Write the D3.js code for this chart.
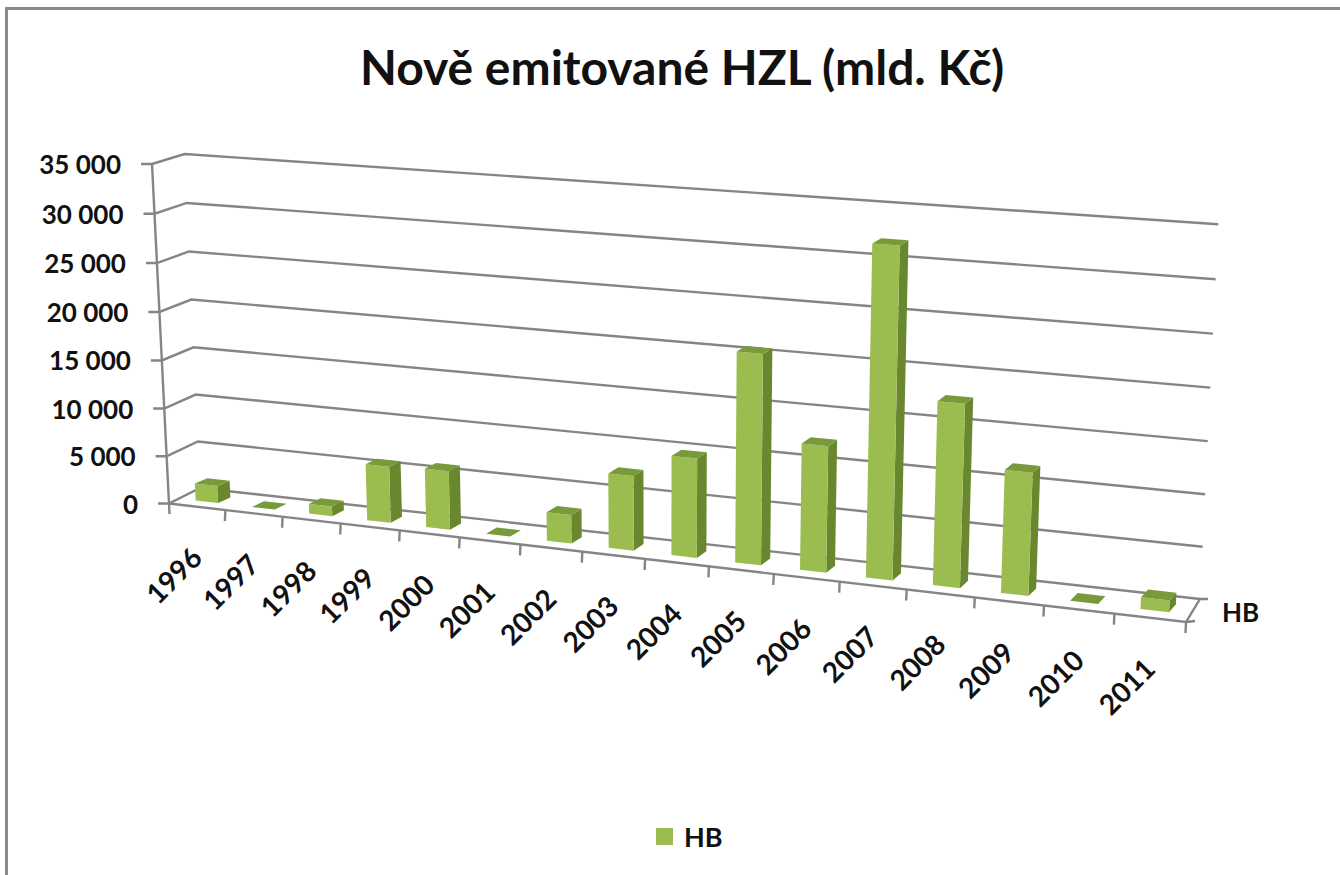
<!DOCTYPE html>
<html>
<head>
<meta charset="utf-8">
<script src="https://cdn.jsdelivr.net/npm/d3@7"></script>
<style>
html, body { margin: 0; padding: 0; background: #fff; overflow: hidden; }
text { font-family: Lato, "Open Sans", sans-serif; fill: #111; }
</style>
</head>
<body>
<div class="container"></div>
<script>
const categories = ["1996","1997","1998","1999","2000","2001","2002","2003","2004","2005","2006","2007","2008","2009","2010","2011"]
const values = [1800, 0, 1000, 5800, 6000, 0, 2900, 7500, 9900, 20700, 12400, 32000, 17700, 11800, 0, 1100]
const yTicks = [0, 5000, 10000, 15000, 20000, 25000, 30000, 35000]
const yLabels = ["0", "5 000", "10 000", "15 000", "20 000", "25 000", "30 000", "35 000"]
const seriesName = "HB"
const chartTitle = "Nově emitované HZL (mld. Kč)"

const wd = 1340, ht = 875
const gridCol = "#858585"

const svg = d3.select(".container").append("svg").attr("width", wd).attr("height", ht)

// frame of the chart area
svg.append("path")
.attr("d", "M6.5,875V8.5H1340")
.attr("fill", "none").attr("stroke", "#8a8a8a").attr("stroke-width", 3)

// corners of the 3d box in screen pixels: f = front, b = back, lo = floor, hi = top
const box = {
  fLoL: [169, 503.5], fLoR: [1186, 622], fHiL: [152, 164], fHiR: [1204, 240],
  bLoL: [200, 488], bLoR: [1200, 599], bHiL: [184.5, 154], bHiR: [1218.3, 224.3]
}
const mix = (a, b, t) => [a[0] + (b[0] - a[0]) * t, a[1] + (b[1] - a[1]) * t]
// foreshortening, things get bigger to the right and to the top
const warp = (t, k) => t / (t + k * (1 - t))

const xScale = d3.scaleBand().domain(categories).range([0, 1])
const yScale = d3.scaleLinear().domain([0, 35000]).range([0, 1])

function project(u, val, z) {
  const U = warp(u, 1.136), V = warp(yScale(val), 1.03)
  const front = mix(mix(box.fLoL, box.fLoR, U), mix(box.fHiL, box.fHiR, U), V)
  const back = mix(mix(box.bLoL, box.bLoR, U), mix(box.bHiL, box.bHiR, U), V)
  return mix(front, back, z)
}

const line = d3.line()
const wall = svg.append("g").attr("fill", "none").attr("stroke", gridCol).attr("stroke-width", 2.4)

// gridlines: wing on the left side wall then along the back wall
wall.selectAll(".grid")
.data(yTicks)
.enter()
.append("path")
.attr("class", "grid")
.attr("d", d => {
  const p = project(0, d, 0)
  return line([[p[0] - 11, p[1]], p, project(0, d, 1), project(1, d, 1)])
})

// value axis + floor edges
wall.append("path").attr("d", line([project(0, 35000, 0), project(0, 0, 0)]))
wall.append("path").attr("d", line([project(0, 0, 0), project(1, 0, 0), project(1, 0, 1), [1208, 599]]))
wall.append("path").attr("d", line([project(1, 0, 0), [1195, 621]]))

// category ticks
const edges = categories.map(c => xScale(c)).concat([1])
wall.selectAll(".tick")
.data(edges.slice(1))
.enter()
.append("path")
.attr("class", "tick")
.attr("d", d => {
  const p = project(d, 0, 0)
  return line([p, [p[0] - 0.5, p[1] + 11]])
})
wall.append("path").attr("d", line([project(0, 0, 0), [169.5, 514]]))

// bars
const gap = xScale.bandwidth() * 0.3
const zFront = 0.32, zBack = 0.68
const skew = 0.0015 // back face sits a bit further right than the box corners give
const bars = categories.map((c, i) => ({ year: c, val: values[i], u0: xScale(c) + gap, u1: xScale(c) + xScale.bandwidth() - gap }))

const barG = svg.selectAll(".bar")
.data(bars)
.enter()
.append("g")
.attr("class", "bar")

const face = (pts) => line(pts) + "Z"

barG.append("path")
.attr("fill", "#68872f")
.attr("d", d => face([project(d.u1, 0, zFront), project(d.u1 + skew, 0, zBack), project(d.u1 + skew, d.val, zBack), project(d.u1, d.val, zFront)]))
barG.append("path")
.attr("fill", "#9bbd50")
.attr("d", d => face([project(d.u0, 0, zFront), project(d.u1, 0, zFront), project(d.u1, d.val, zFront), project(d.u0, d.val, zFront)]))
barG.append("path")
.attr("fill", "#789a3b")
.attr("d", d => face([project(d.u0, d.val, zFront), project(d.u1, d.val, zFront), project(d.u1 + skew, d.val, zBack), project(d.u0 + skew, d.val, zBack)]))

// value labels
svg.selectAll(".ylab")
.data(yTicks)
.enter()
.append("text")
.attr("class", "ylab")
.attr("text-anchor", "end")
.attr("x", d => project(0, d, 0)[0] - 31)
.attr("y", d => project(0, d, 0)[1] + 10)
.attr("font-size", 26)
.attr("font-weight", 700)
.text((d, i) => yLabels[i])

// category labels
svg.selectAll(".xlab")
.data(bars)
.enter()
.append("text")
.attr("class", "xlab")
.attr("text-anchor", "end")
.attr("font-size", 28)
.attr("font-weight", 700)
.attr("transform", d => {
  const p = project((d.u0 + d.u1) / 2, 0, 0)
  return "translate(" + (p[0] + 7) + " " + (p[1] + 53) + ") rotate(-45)"
})
.text(d => d.year)

svg.append("text")
.attr("x", 1222).attr("y", 622)
.attr("font-size", 26).attr("font-weight", 700)
.text(seriesName)

svg.append("text")
.attr("x", 682).attr("y", 85)
.attr("text-anchor", "middle")
.attr("font-size", 48).attr("font-weight", 700)
.text(chartTitle)

// legend
svg.append("rect").attr("x", 656).attr("y", 828).attr("width", 17).attr("height", 17).attr("fill", "#9bbd50")
svg.append("text")
.attr("x", 684).attr("y", 847)
.attr("font-size", 27).attr("font-weight", 700)
.text(seriesName)
</script>
</body>
</html>
